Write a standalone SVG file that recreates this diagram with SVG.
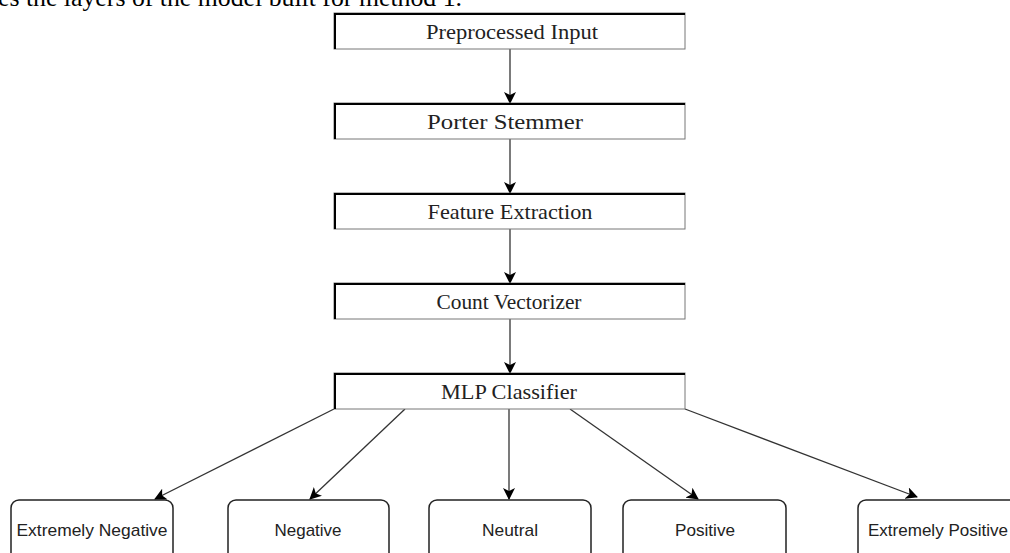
<svg xmlns="http://www.w3.org/2000/svg" width="1010" height="553" viewBox="0 0 1010 553">
  <defs>
    <marker id="arr" viewBox="0 0 12 12" refX="11" refY="6" markerWidth="12" markerHeight="12" markerUnits="userSpaceOnUse" orient="auto">
      <path d="M0,0 L12,6 L0,12 L3,6 Z" fill="#000"/>
    </marker>
    <style>
      .box { fill: #fff; stroke: #777; stroke-width: 1; }
      .edge3d { fill: none; stroke: #000; stroke-width: 2; }
      .out { fill: #fff; stroke: #222; stroke-width: 1.5; }
      .serif { font-family: "Liberation Serif", "Times New Roman", serif; font-size: 21px; fill: #222; text-anchor: middle; }
      .sans { font-family: "Liberation Sans", Arial, sans-serif; font-size: 17px; fill: #222; text-anchor: middle; }
      .cap { font-family: "Liberation Serif", "Times New Roman", serif; font-size: 25px; fill: #000; }
      .conn line { stroke: #333; stroke-width: 1.3; marker-end: url(#arr); }
    </style>
  </defs>
  <rect width="1010" height="553" fill="#fff"/>
  <text class="cap" x="-2" y="6" textLength="464" lengthAdjust="spacingAndGlyphs">es the layers of the model built for method 1.</text>

  <g id="connectors" class="conn">
    <line x1="510" y1="49" x2="510" y2="103"/>
    <line x1="510" y1="139" x2="510" y2="193"/>
    <line x1="510" y1="229" x2="510" y2="283"/>
    <line x1="510" y1="319" x2="510" y2="373"/>
    <line x1="334" y1="409" x2="155" y2="499"/>
    <line x1="405" y1="409" x2="310" y2="499"/>
    <line x1="509" y1="409" x2="509" y2="499"/>
    <line x1="570" y1="409" x2="698" y2="499"/>
    <line x1="685" y1="409" x2="917" y2="497"/>
  </g>

  <g id="n-preprocessed">
    <rect class="box" x="334" y="13" width="351" height="36"/>
    <path class="edge3d" d="M335,49 V14 H685"/>
    <text class="serif" x="512" y="39" textLength="172" lengthAdjust="spacingAndGlyphs">Preprocessed Input</text>
  </g>
  <g id="n-porter">
    <rect class="box" x="334" y="103" width="351" height="36"/>
    <path class="edge3d" d="M335,139 V104 H685"/>
    <text class="serif" x="505" y="129" textLength="156" lengthAdjust="spacingAndGlyphs">Porter Stemmer</text>
  </g>
  <g id="n-feature">
    <rect class="box" x="334" y="193" width="351" height="36"/>
    <path class="edge3d" d="M335,229 V194 H685"/>
    <text class="serif" x="510" y="219" textLength="165" lengthAdjust="spacingAndGlyphs">Feature Extraction</text>
  </g>
  <g id="n-count">
    <rect class="box" x="334" y="283" width="351" height="36"/>
    <path class="edge3d" d="M335,319 V284 H685"/>
    <text class="serif" x="509" y="309" textLength="145" lengthAdjust="spacingAndGlyphs">Count Vectorizer</text>
  </g>
  <g id="n-mlp">
    <rect class="box" x="334" y="373" width="351" height="36"/>
    <path class="edge3d" d="M335,409 V374 H685"/>
    <text class="serif" x="509" y="399" textLength="136" lengthAdjust="spacingAndGlyphs">MLP Classifier</text>
  </g>

  <g id="n-extneg">
    <rect class="out" x="11" y="500" width="162" height="70" rx="8"/>
    <text class="sans" x="92" y="536" textLength="151" lengthAdjust="spacingAndGlyphs">Extremely Negative</text>
  </g>
  <g id="n-neg">
    <rect class="out" x="228" y="500" width="161" height="70" rx="8"/>
    <text class="sans" x="308" y="536" textLength="67" lengthAdjust="spacingAndGlyphs">Negative</text>
  </g>
  <g id="n-neutral">
    <rect class="out" x="429" y="500" width="162" height="70" rx="8"/>
    <text class="sans" x="510" y="536" textLength="56" lengthAdjust="spacingAndGlyphs">Neutral</text>
  </g>
  <g id="n-pos">
    <rect class="out" x="623" y="500" width="163" height="70" rx="8"/>
    <text class="sans" x="705" y="536" textLength="60" lengthAdjust="spacingAndGlyphs">Positive</text>
  </g>
  <g id="n-extpos">
    <rect class="out" x="858" y="500" width="170" height="70" rx="8"/>
    <text class="sans" x="938" y="536" textLength="140" lengthAdjust="spacingAndGlyphs">Extremely Positive</text>
  </g>
</svg>
